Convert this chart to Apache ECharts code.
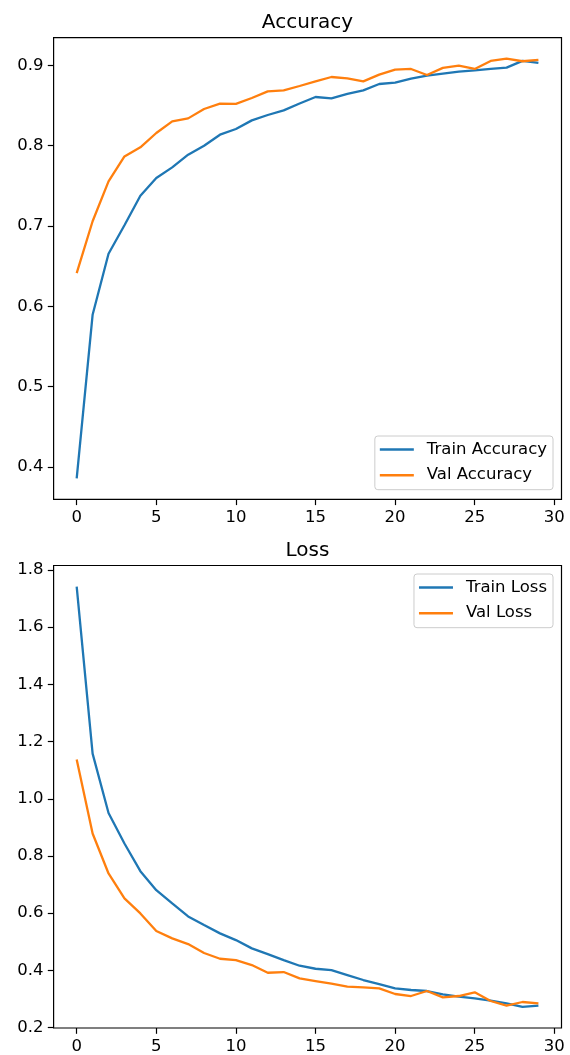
<!DOCTYPE html>
<html>
<head>
<meta charset="utf-8">
<script src="https://cdn.jsdelivr.net/npm/echarts@6/dist/echarts.min.js"></script>
<style>
html,body{margin:0;padding:0;background:#fff;}
#chart{width:570px;height:1055px;}
</style>
</head>
<body>
<div id="chart"></div>
<script>
// ---- data ----
const epochs = Array.from({length: 30}, (_, i) => i);
const trainAcc = [0.386, 0.5895, 0.6655, 0.701, 0.7377, 0.7598, 0.773, 0.7888, 0.800, 0.8137,
  0.8208, 0.8315, 0.8382, 0.844, 0.8525, 0.8606, 0.8589, 0.8644, 0.8689, 0.8768,
  0.8785, 0.8834, 0.8872, 0.8897, 0.8922, 0.8938, 0.8955, 0.8971, 0.9055, 0.903];
const valAcc = [0.6415, 0.706, 0.7555, 0.7867, 0.798, 0.8158, 0.8303, 0.834, 0.8457, 0.8523,
  0.852, 0.8594, 0.8676, 0.8689, 0.8743, 0.880, 0.8855, 0.8838, 0.880, 0.8884,
  0.8946, 0.8955, 0.888, 0.8968, 0.8996, 0.8955, 0.9055, 0.9083, 0.9051, 0.9067];
const trainLoss = [1.7417, 1.1578, 0.9504, 0.8436, 0.747, 0.6806, 0.634, 0.5887, 0.5585, 0.5295,
  0.5061, 0.4771, 0.4572, 0.4363, 0.4164, 0.4059, 0.4014, 0.3839, 0.3665, 0.3525,
  0.3375, 0.3316, 0.3281, 0.3166, 0.3082, 0.3026, 0.2942, 0.2852, 0.2723, 0.2768];
const valLoss = [1.1368, 0.8785, 0.7389, 0.6517, 0.5993, 0.538, 0.512, 0.4922, 0.4608, 0.4408,
  0.4363, 0.4188, 0.392, 0.3944, 0.3724, 0.363, 0.3536, 0.3431, 0.341, 0.3375,
  0.3176, 0.3106, 0.3281, 0.3061, 0.3106, 0.3236, 0.2932, 0.2768, 0.2897, 0.2852];
const xTicks = [0, 5, 10, 15, 20, 25, 30];
const accTicks = [0.4, 0.5, 0.6, 0.7, 0.8, 0.9];
const lossTicks = [0.2, 0.4, 0.6, 0.8, 1.0, 1.2, 1.4, 1.6, 1.8];
const titles = ['Accuracy', 'Loss'];
const names = ['Train Accuracy', 'Val Accuracy', 'Train Loss', 'Val Loss'];

// ---- helpers ----
function padRange(arrs) {
  const all = [].concat(...arrs);
  const mn = Math.min(...all), mx = Math.max(...all);
  const m = (mx - mn) * 0.05;
  return [mn - m, mx + m];
}
const xRange = [-0.05 * 29, 29 + 0.05 * 29];
const accRange = padRange([trainAcc, valAcc]);
const lossRange = padRange([trainLoss, valLoss]);

const FONT = 'DejaVu Sans';
const TICK_FS = 16.5;
const BLUE = '#1f77b4', ORANGE = '#ff7f0e';

function xAxis(gi) {
  return {
    type: 'value', gridIndex: gi, min: xRange[0], max: xRange[1],
    axisLine: {show: false, onZero: false}, splitLine: {show: false},
    axisTick: {show: true, customValues: xTicks, length: 5.8, inside: false,
      lineStyle: {color: '#000', width: 1.2}},
    axisLabel: {customValues: xTicks, margin: 10, color: '#000',
      fontFamily: FONT, fontSize: TICK_FS, formatter: v => String(Math.round(v))}
  };
}
function yAxis(gi, range, ticks) {
  return {
    type: 'value', gridIndex: gi, min: range[0], max: range[1],
    axisLine: {show: false, onZero: false}, splitLine: {show: false},
    axisTick: {show: true, customValues: ticks, length: 5.8, inside: false,
      lineStyle: {color: '#000', width: 1.2}},
    axisLabel: {customValues: ticks, margin: 10, color: '#000',
      fontFamily: FONT, fontSize: TICK_FS, formatter: v => v.toFixed(1)}
  };
}
function line(name, data, color, gi) {
  return {
    name, type: 'line', xAxisIndex: gi, yAxisIndex: gi,
    data: epochs.map((e, i) => [e, data[i]]),
    symbol: 'none', showSymbol: false,
    lineStyle: {color, width: 2.3}, itemStyle: {color},
    emphasis: {disabled: true}
  };
}
function legend(data, top) {
  return {
    data, orient: 'vertical', right: 17, top,
    backgroundColor: 'rgba(255,255,255,0.8)', borderColor: '#cccccc', borderWidth: 1,
    borderRadius: 3, padding: [5, 6, 6, 5],
    icon: 'rect', itemWidth: 34, itemHeight: 2.5, itemGap: 8.7,
    textStyle: {fontFamily: FONT, fontSize: TICK_FS, color: '#000', padding: [0, 0, 0, 8], lineHeight: 17},
    selectedMode: false
  };
}

const chart = echarts.init(document.getElementById('chart'), null, {renderer: 'canvas'});
chart.setOption({
  animation: false,
  backgroundColor: '#fff',
  title: [
    {text: titles[0], left: 307.5, top: 12.5, textAlign: 'center', padding: 0,
      textStyle: {fontFamily: FONT, fontSize: 20, fontWeight: 'normal', color: '#000'}},
    {text: titles[1], left: 307.5, top: 540.5, textAlign: 'center', padding: 0,
      textStyle: {fontFamily: FONT, fontSize: 20, fontWeight: 'normal', color: '#000'}}
  ],
  grid: [
    {left: 53.6, right: 8.5, top: 37.7, height: 461.6, show: true, borderColor: '#000', borderWidth: 1.2, backgroundColor: 'transparent'},
    {left: 53.6, right: 8.5, top: 565.5, height: 462.8, show: true, borderColor: '#000', borderWidth: 1.2, backgroundColor: 'transparent'}
  ],
  xAxis: [xAxis(0), xAxis(1)],
  yAxis: [yAxis(0, accRange, accTicks), yAxis(1, lossRange, lossTicks)],
  legend: [legend([names[0], names[1]], 436), legend([names[2], names[3]], 574)],
  series: [
    line(names[0], trainAcc, BLUE, 0),
    line(names[1], valAcc, ORANGE, 0),
    line(names[2], trainLoss, BLUE, 1),
    line(names[3], valLoss, ORANGE, 1)
  ]
});
</script>
</body>
</html>
